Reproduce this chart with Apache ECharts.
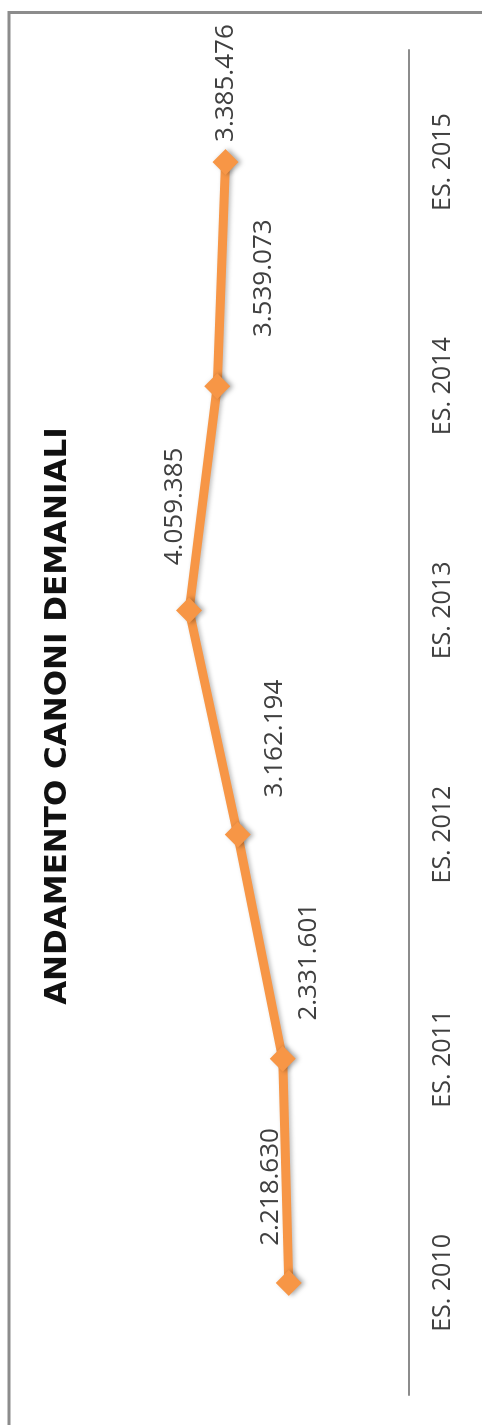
<!DOCTYPE html>
<html>
<head>
<meta charset="utf-8">
<script src="https://cdn.jsdelivr.net/npm/echarts@6/dist/echarts.min.js"></script>
<style>
  html, body { margin: 0; padding: 0; background: #fff; overflow: hidden; }
  body { width: 482px; height: 1425px; position: relative; }
  /* chart is drawn landscape, then turned a quarter to the left */
  #chart {
    position: absolute; left: 0; top: 1425px;
    width: 1425px; height: 482px;
    transform-origin: 0 0;
    transform: rotate(-90deg);
  }
</style>
</head>
<body>
<div id="chart"></div>
<script>
  'use strict'

  var years = ['ES. 2010', 'ES. 2011', 'ES. 2012', 'ES. 2013', 'ES. 2014', 'ES. 2015'];
  var canoni = [2218630, 2331601, 3162194, 4059385, 3539073, 3385476];

  // where each value label sits relative to its marker
  var labelShift = [[96, -18], [97, 26], [96, 37], [104, -15], [108, 46], [79, 0]];

  function itNumber(v) {
    return String(v).replace(/\B(?=(\d{3})+(?!\d))/g, '.');
  }

  var seriesData = canoni.map(function (v, i) {
    return {
      value: v,
      label: { offset: labelShift[i] }
    };
  });

  var option = {
    animation: false,
    title: {
      text: 'ANDAMENTO CANONI DEMANIALI',
      left: 704,
      textAlign: 'center',
      top: 37,
      textStyle: {
        fontFamily: 'DejaVu Sans',
        fontWeight: 'bold',
        fontSize: 31,
        color: '#111'
      }
    },
    grid: {
      top: 84,
      bottom: 73,
      left: 30,
      right: 50
    },
    xAxis: {
      type: 'category',
      data: years,
      boundaryGap: true,
      axisLine: { lineStyle: { color: '#8c8c8c', width: 2 } },
      axisTick: { show: false },
      axisLabel: {
        margin: 21,
        fontFamily: 'Open Sans',
        fontSize: 25,
        color: '#404040'
      }
    },
    yAxis: {
      type: 'value',
      min: 0,
      max: 6000000,
      show: false,
      splitLine: { show: false }
    },
    series: [{
      name: 'Canoni',
      type: 'line',
      data: seriesData,
      symbol: 'diamond',
      symbolSize: 26,
      lineStyle: {
        width: 9,
        color: '#F79646',
        shadowColor: 'rgba(0,0,0,0.25)',
        shadowBlur: 4,
        shadowOffsetY: 2
      },
      itemStyle: {
        color: '#F79646',
        shadowColor: 'rgba(0,0,0,0.35)',
        shadowBlur: 5,
        shadowOffsetY: 3
      },
      label: {
        show: true,
        position: 'inside',
        formatter: function (p) { return itNumber(p.value); },
        fontFamily: 'Open Sans',
        fontSize: 26,
        color: '#404040'
      }
    }],
    graphic: [{
      type: 'rect',
      silent: true,
      shape: { x: -20, y: 9, width: 1432.5, height: 600 },
      style: { fill: 'none', stroke: '#8c8c8c', lineWidth: 3 }
    }]
  };

  var chart = echarts.init(document.getElementById('chart'));
  chart.setOption(option);
</script>
</body>
</html>
